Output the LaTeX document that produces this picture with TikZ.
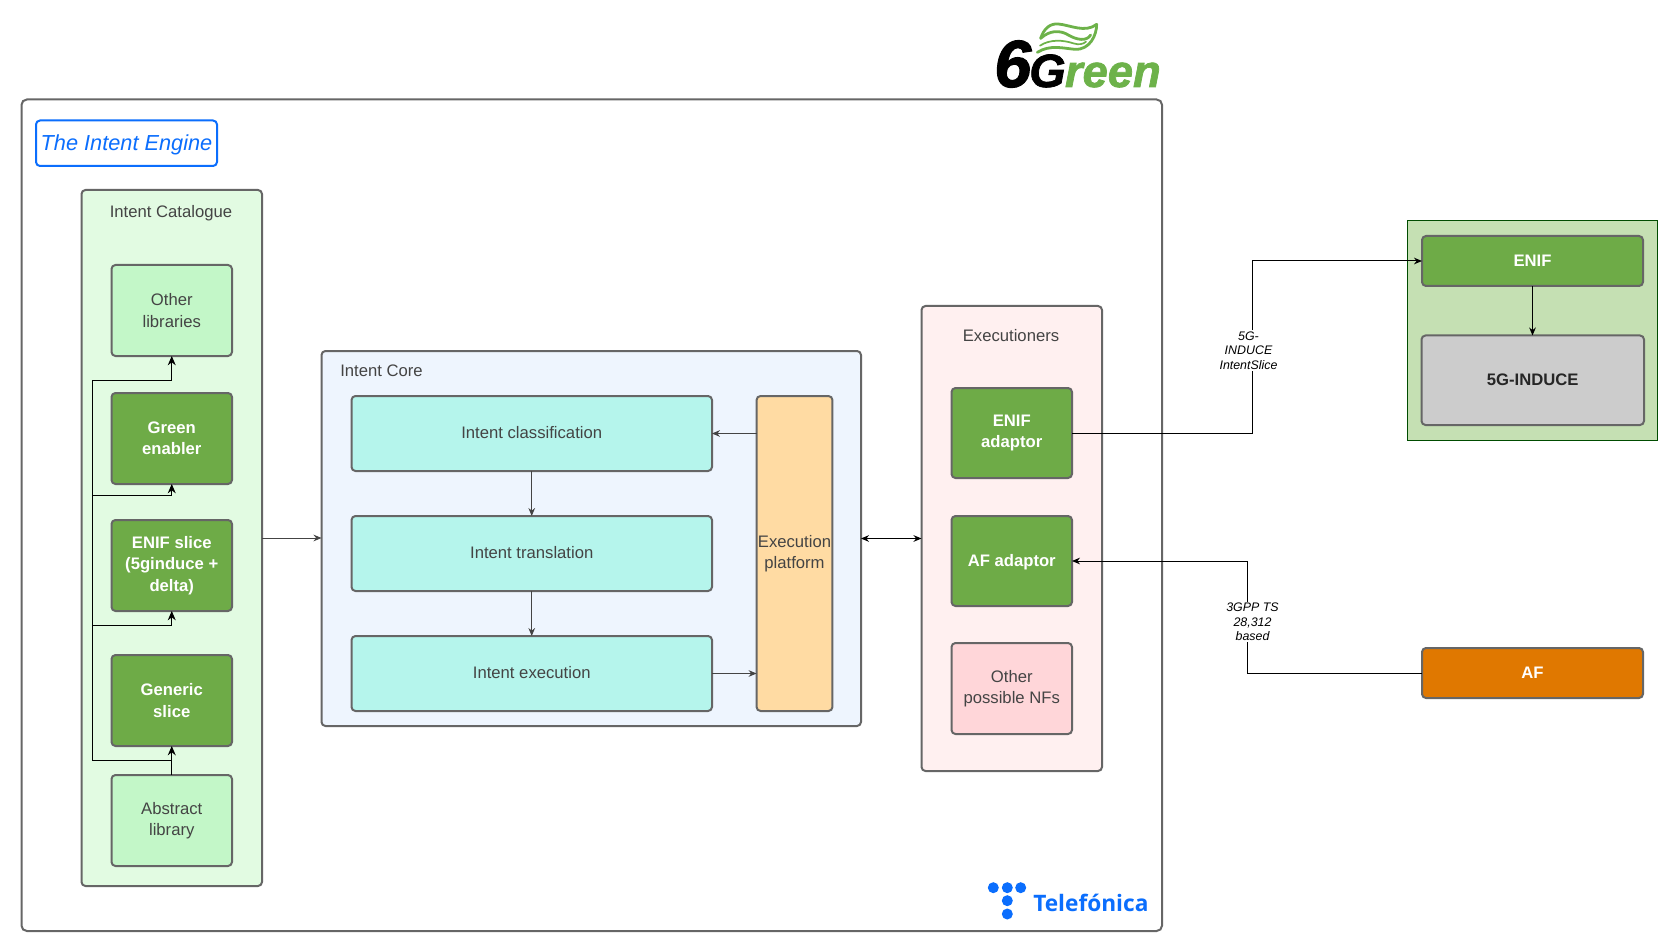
\documentclass[tikz,border=0pt]{standalone}
\usepackage{fontspec}
\setmainfont{Liberation Sans}
\newfontfamily\telefont{Open Sans}
\newfontfamily\logofont[BoldItalicFeatures={FakeBold=1.6}]{Liberation Sans}
\usetikzlibrary{arrows.meta}
\definecolor{edgegray}{HTML}{666666}
\definecolor{txt}{HTML}{444444}
\definecolor{catfill}{HTML}{E2FBE2}
\definecolor{libfill}{HTML}{C3F7C8}
\definecolor{grn}{HTML}{6EAB47}
\definecolor{corefill}{HTML}{EEF5FE}
\definecolor{teal}{HTML}{B5F5EC}
\definecolor{peach}{HTML}{FFDBA3}
\definecolor{pinkbg}{HTML}{FFF0F0}
\definecolor{pinkbox}{HTML}{FFD6D9}
\definecolor{sage}{HTML}{C5E0B3}
\definecolor{graybox}{HTML}{CCCCCC}
\definecolor{afor}{HTML}{E07800}
\definecolor{tblue}{HTML}{0B6EFD}
\definecolor{logog}{HTML}{6DB24A}
\newcommand\bx[7]{%
  \pgfmathsetmacro\bw{(#4-#2)*0.75}%
  \pgfmathsetmacro\bh{(#5-#3)*0.75}%
  \node[#6,minimum width=\bw pt,minimum height=\bh pt] (#1) at ({(#2+#4)/2},{(#3+#5)/2}) {#7};}
\tikzset{
  base/.style={draw=edgegray,line width=1.5pt,rounded corners=3pt,outer sep=0pt,inner sep=1pt,align=center,text=txt,font=\fontsize{12.5}{16}\selectfont},
  libbox/.style={base,fill=libfill},
  greenbox/.style={base,fill=grn,text=white,font=\fontsize{12.5}{16}\selectfont\bfseries},
  flowbox/.style={base,fill=teal,text depth=1.5pt},
  arr/.style={draw=txt,line width=0.75pt,-{Stealth[length=6pt,width=5pt]}},
  blk/.style={draw=black,line width=0.75pt},
  blkarr/.style={blk,-{Stealth[length=7pt,width=6pt]}},
  caption/.style={text=txt,font=\fontsize{12.5}{16}\selectfont,inner sep=0pt},
  edgelab/.style={fill=white,inner sep=1pt,align=center,text=black,font=\fontsize{9.3}{10.8}\selectfont\itshape},
  leafline/.style={draw=logog,line width=2.1pt,line cap=round,line join=round},
}
\begin{document}
\begin{tikzpicture}[x=0.75pt,y=-0.75pt]
\useasboundingbox (0,0) rectangle (1678,952);
% containers
\bx{engine}{21.5}{99.5}{1162}{931}{base,fill=white,rounded corners=4pt}{}
\bx{title}{36}{120.5}{217}{166}{base,draw=tblue,fill=white,text=tblue,font=\fontsize{16.3}{19}\selectfont\itshape,text height=11.2pt,text depth=0pt}{The Intent Engine}
\bx{catalogue}{81.5}{190}{262}{886}{base,fill=catfill}{}
\bx{core}{321.5}{351}{861}{726}{base,fill=corefill}{}
\bx{exec}{921.5}{306}{1102}{771}{base,fill=pinkbg}{}
\node[caption] (catlabel) at (171,213.5) {Intent Catalogue};
\node[caption,anchor=west] (corelabel) at (340,370.5) {Intent Core};
\node[caption] (execlabel) at (1011,335.5) {Executioners};
% catalogue
\bx{otherlib}{111.5}{265}{232}{356}{libbox}{Other\\libraries}
\bx{greenen}{111.5}{393}{232}{484}{greenbox}{Green\\enabler}
\bx{enifslice}{111.5}{520}{232}{611}{greenbox}{ENIF slice\\(5ginduce +\\delta)}
\bx{generic}{111.5}{655}{232}{746}{greenbox}{Generic\\slice}
\bx{abstract}{111.5}{775}{232}{866}{libbox}{Abstract\\library}
% core
\bx{classif}{351.5}{396}{712}{471}{flowbox}{Intent classification}
\bx{transl}{351.5}{516}{712}{591}{flowbox}{Intent translation}
\bx{execu}{351.5}{636}{712}{711}{flowbox}{Intent execution}
\bx{platform}{757}{396}{832}{711}{base,fill=peach}{Execution\\platform}
% executioners
\bx{enifad}{951.5}{388}{1072}{478}{greenbox}{ENIF\\adaptor}
\bx{afad}{951.5}{516}{1072}{606}{greenbox,text depth=1.5pt}{AF adaptor}
\bx{othernf}{951.5}{643}{1072}{734}{base,fill=pinkbox}{Other\\possible NFs}
% right
\bx{rightbg}{1407}{221}{1657.5}{440}{draw=black!70!green,line width=0.75pt,fill=sage,outer sep=0pt}{}
\bx{enif}{1422}{236}{1643}{286}{greenbox}{ENIF}
\bx{induce}{1421.5}{335.5}{1644}{425}{base,fill=graybox,text=black!85,font=\fontsize{12.5}{16}\selectfont\bfseries,text depth=1.5pt}{5G-INDUCE}
\bx{af}{1422}{648}{1643}{698}{greenbox,fill=afor}{AF}
% catalogue connectors
\coordinate (trunkA) at (92,760);
\coordinate (trunkB) at (92,625);
\coordinate (trunkC) at (92,495);
\coordinate (trunkD) at (92,380);
\draw[blkarr,line width=1.1pt] (abstract.north) -- (generic.south);
\draw[blk] (trunkA -| generic.south) -- (trunkA) -- (trunkD);
\draw[blkarr] (trunkD) -| (otherlib.south);
\draw[blkarr] (trunkC) -| (greenen.south);
\draw[blkarr] (trunkB) -| (enifslice.south);
% main connectors
\draw[arr] (catalogue.east) -- (core.west |- catalogue.east);
\draw[arr,{Stealth[length=6pt,width=5pt]}-{Stealth[length=6pt,width=5pt]},draw=black] (core.east) -- (exec.west |- core.east);
\draw[arr] (classif.south) -- (transl.north);
\draw[arr] (transl.south) -- (execu.north);
\draw[arr] (platform.west |- classif.east) -- (classif.east);
\draw[arr] (execu.east) -- (platform.west |- execu.east);
\draw[blkarr,-{Stealth[length=6pt,width=5pt]}] (enif.south) -- (enif.south |- induce.north);
% external connectors
\coordinate (bendA) at (1252,261);
\coordinate (bendB) at (1252,433);
\coordinate (bendC) at (1247,561);
\coordinate (bendD) at (1247,673);
\draw[blk,-{Stealth[length=6pt,width=5pt]}] (enifad.east) -- (bendB) -- (bendA) -- (enif.west);
\draw[blk,-{Stealth[length=6pt,width=5pt]}] (af.west) -- (bendD) -- (bendC) -- (afad.east);
\node[edgelab] (lab1) at (1248.5,350.5) {5G-\\INDUCE\\IntentSlice};
\node[edgelab] (lab2) at (1252.5,622) {3GPP TS\\28,312\\based};
% 6Green logo
\begin{scope}[shift={(1030,15)},x=0.25pt,y=-0.25pt]
\draw[leafline] (32,70) .. controls (42,40) and (60,25) .. (85,27)
  .. controls (120,30) and (165,55) .. (200,28)
  .. controls (200,60) and (180,105) .. (135,103)
  .. controls (100,100) and (60,88) .. (22,112);
\draw[leafline] (32,70) .. controls (60,45) and (90,45) .. (115,60)
  .. controls (140,75) and (170,80) .. (182,60);
\draw[leafline,line width=1.3pt] (30,92) .. controls (60,72) and (100,75) .. (130,85)
  .. controls (145,90) and (160,88) .. (168,80);
\end{scope}
\node[anchor=base west,inner sep=0pt] (logotext) at (994,87) {\logofont\bfseries\itshape\fontsize{50}{50}\selectfont 6\kern-1.5pt\fontsize{35}{35}\selectfont G\color{logog}\kern-.5pt\fontsize{34}{35}\selectfont reen};
% Telefonica logo
\fill[tblue] (993.3,887.7) circle (5.5) (1007.3,887.7) circle (5.5) (1020.7,887.7) circle (5.5) (1007.3,900.7) circle (5.5) (1007.3,914) circle (5.5);
\node[anchor=base west,inner sep=0pt,text=tblue] (telefonica) at (1033,911) {\telefont\bfseries\fontsize{17}{20}\selectfont Telefónica};
\end{tikzpicture}
\end{document}
